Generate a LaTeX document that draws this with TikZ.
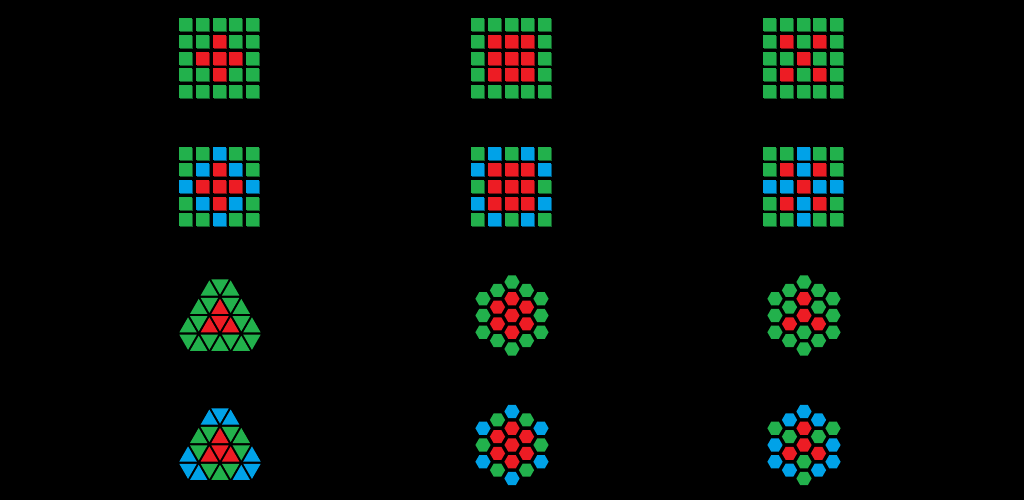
\documentclass[tikz,border=0pt]{standalone}
\usepackage{tikz}
\usetikzlibrary{calc}
\definecolor{pixG}{HTML}{22B14C}
\definecolor{pixR}{HTML}{ED1C24}
\definecolor{pixB}{HTML}{00A2E8}
\tikzset{
	cell/.style={
			fill=pix#1
		},
	cellshade/.style={
			fill=pix#1!55!black
		}
}
% square mosaic, 5x5, colours row by row
\newcommand\sqgrid[3]{%
  \foreach \c [count=\i from 0] in {#3} {
    \pgfmathtruncatemacro\gc{mod(\i,5)}
    \pgfmathtruncatemacro\gr{div(\i,5)}
    \fill[cellshade=\c] ({#1+\gc*16.67+1},{#2+\gr*16.67+1}) rectangle +(13,13);
    \fill[cell=\c] ({#1+\gc*16.67},{#2+\gr*16.67}) rectangle +(13,13);
  }}
% one row of triangles: centre x, top y, left edge (in sides), first one down?, colours
\newcommand\trirow[5]{%
  \foreach \c [count=\j from 0] in {#5} {
    \pgfmathsetmacro\cx{#1+(#3)*21.3+(\j+1)*10.65}
    \pgfmathtruncatemacro\dn{mod(\j+#4,2)}
    \ifnum\dn=0
      \fill[cell=\c, shift={(\cx,#2+12.3)}, scale=0.82] (-10.65,6.15) -- (10.65,6.15) -- (0,-12.3) -- cycle;
    \else
      \fill[cell=\c, shift={(\cx,#2+6.15)}, scale=0.82] (-10.65,-6.15) -- (10.65,-6.15) -- (0,12.3) -- cycle;
    \fi
  }}
% one column of hexagons: centre x, centre y, column, count, colours
\newcommand\hexcol[5]{%
  \foreach \c [count=\k from 0] in {#5} {
    \fill[cell=\c] ({#1+(#3)*14.5},{#2+(\k-(#4-1)/2)*16.75})
      +(0:7.6) -- +(60:7.6) -- +(120:7.6) -- +(180:7.6) -- +(240:7.6) -- +(300:7.6) -- cycle;
  }}

\begin{document}
\begin{tikzpicture}[x=1pt, y=-1pt]
\fill[black] (0,0) rectangle (1024,500);

% squares
\sqgrid{179.3}{18.3}{G,G,G,G,G, G,G,R,G,G, G,R,R,R,G, G,G,R,G,G, G,G,G,G,G}
\sqgrid{471.3}{18.3}{G,G,G,G,G, G,R,R,R,G, G,R,R,R,G, G,R,R,R,G, G,G,G,G,G}
\sqgrid{763.3}{18.3}{G,G,G,G,G, G,R,G,R,G, G,G,R,G,G, G,R,G,R,G, G,G,G,G,G}

\sqgrid{179.3}{146.7}{G,G,B,G,G, G,B,R,B,G, B,R,R,R,B, G,B,R,B,G, G,G,B,G,G}
\sqgrid{471.3}{146.7}{G,B,G,B,G, B,R,R,R,B, G,R,R,R,G, B,R,R,R,B, G,B,G,B,G}
\sqgrid{763.3}{146.7}{G,G,B,G,G, G,R,B,R,G, B,B,R,B,B, G,R,B,R,G, G,G,B,G,G}

% triangles
\trirow{220}{278.2}{-1}{0}{G,G,G}
\trirow{220}{296.65}{-1.5}{0}{G,G,R,G,G}
\trirow{220}{315.1}{-2}{0}{G,G,R,R,R,G,G}
\trirow{220}{333.55}{-2}{1}{G,G,G,G,G,G,G}

\trirow{220}{407.3}{-1}{0}{B,B,B}
\trirow{220}{425.75}{-1.5}{0}{G,G,R,G,G}
\trirow{220}{444.2}{-2}{0}{B,G,R,R,R,G,B}
\trirow{220}{462.65}{-2}{1}{B,B,G,G,G,B,B}

% hexagons
\hexcol{512}{315.5}{-2}{3}{G,G,G}
\hexcol{512}{315.5}{-1}{4}{G,R,R,G}
\hexcol{512}{315.5}{0}{5}{G,R,R,R,G}
\hexcol{512}{315.5}{1}{4}{G,R,R,G}
\hexcol{512}{315.5}{2}{3}{G,G,G}

\hexcol{804}{315.5}{-2}{3}{G,G,G}
\hexcol{804}{315.5}{-1}{4}{G,G,R,G}
\hexcol{804}{315.5}{0}{5}{G,R,R,G,G}
\hexcol{804}{315.5}{1}{4}{G,G,R,G}
\hexcol{804}{315.5}{2}{3}{G,G,G}

\hexcol{512}{445}{-2}{3}{B,G,B}
\hexcol{512}{445}{-1}{4}{G,R,R,G}
\hexcol{512}{445}{0}{5}{B,R,R,R,B}
\hexcol{512}{445}{1}{4}{G,R,R,G}
\hexcol{512}{445}{2}{3}{B,G,B}

\hexcol{804}{445}{-2}{3}{G,B,B}
\hexcol{804}{445}{-1}{4}{B,G,R,B}
\hexcol{804}{445}{0}{5}{B,R,R,G,G}
\hexcol{804}{445}{1}{4}{B,G,R,B}
\hexcol{804}{445}{2}{3}{G,B,B}
\end{tikzpicture}
\end{document}
